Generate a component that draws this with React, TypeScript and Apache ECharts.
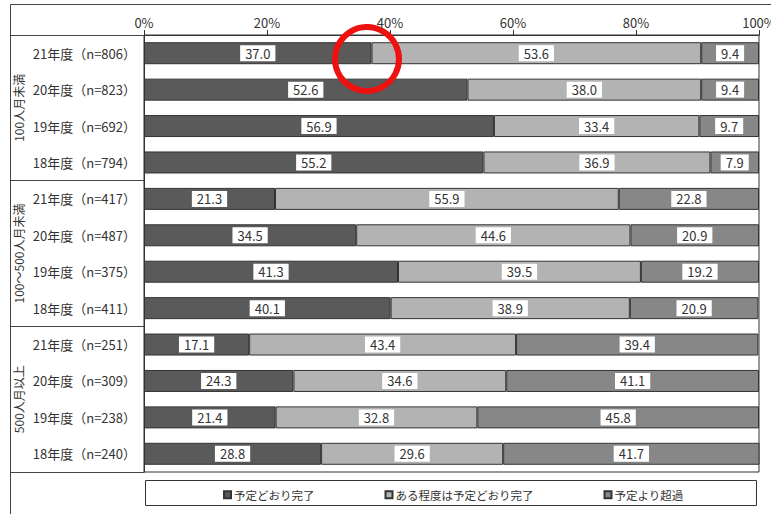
import React, { useEffect, useRef } from "react";
import * as echarts from "echarts";

const categories = [
  "21年度（n=806）", "20年度（n=823）", "19年度（n=692）", "18年度（n=794）",
  "21年度（n=417）", "20年度（n=487）", "19年度（n=375）", "18年度（n=411）",
  "21年度（n=251）", "20年度（n=309）", "19年度（n=238）", "18年度（n=240）",
];
const groups = ["100人月未満", "100～500人月未満", "500人月以上"];
const seriesNames = ["予定どおり完了", "ある程度は予定どおり完了", "予定より超過"];
const doneValues = [37.0, 52.6, 56.9, 55.2, 21.3, 34.5, 41.3, 40.1, 17.1, 24.3, 21.4, 28.8];
const partlyValues = [53.6, 38.0, 33.4, 36.9, 55.9, 44.6, 39.5, 38.9, 43.4, 34.6, 32.8, 29.6];
const overValues = [9.4, 9.4, 9.7, 7.9, 22.8, 20.9, 19.2, 20.9, 39.4, 41.1, 45.8, 41.7];
const xTicks = [0, 20, 40, 60, 80, 100];

const colors = ["#5a5a5a", "#b3b3b3", "#878787"];
const FONT = "'Noto Sans CJK JP', 'Noto Sans', sans-serif";

export default function App() {
  const ref = useRef<HTMLDivElement>(null);
  useEffect(() => {
    if (!ref.current) return;
    const chart = echarts.init(ref.current, undefined, { renderer: "svg" });
    const values = [doneValues, partlyValues, overValues];
    const option: any = {
      animation: false,
      textStyle: { fontFamily: FONT },
      grid: {
        left: 144, right: 12, top: 35, bottom: 42,
        outerBoundsMode: "none", containLabel: false,
        show: true, borderColor: "#333", borderWidth: 1, backgroundColor: "transparent",
      },
      xAxis: {
        type: "value", position: "top", min: 0, max: 100, interval: 20,
        axisLine: { show: true, lineStyle: { color: "#333" } },
        axisTick: { show: true, length: 5, lineStyle: { color: "#333" } },
        splitLine: { show: false },
        axisLabel: {
          color: "#333", fontSize: 13, margin: 6, fontFamily: FONT,
          formatter: (v: number) => (xTicks.includes(v) ? v + "%" : ""),
        },
      },
      yAxis: [
        {
          type: "category", data: categories, inverse: true,
          axisLine: { show: true, lineStyle: { color: "#333" } },
          axisTick: { show: false },
          axisLabel: { color: "#333", fontSize: 13, margin: 8, fontFamily: FONT },
        },
        {
          type: "category", data: groups, inverse: true, position: "left",
          axisLine: { show: false },
          axisTick: { show: true, length: 134, lineStyle: { color: "#444" } },
          axisLabel: { color: "#333", fontSize: 12, rotate: 90, margin: 120, fontFamily: FONT },
        },
      ],
      legend: {
        left: 218, top: 484, itemWidth: 7, itemHeight: 7, itemGap: 70,
        icon: "rect",
        textStyle: { color: "#333", fontSize: 11.5, fontFamily: FONT, padding: [0, 0, 0, -2] },
        data: seriesNames,
      },
      series: seriesNames.map((name, i) => ({
        name, type: "bar", stack: "total", yAxisIndex: 0, barWidth: 22,
        data: values[i],
        itemStyle: { color: colors[i], borderColor: "#333", borderWidth: 1 },
        label: {
          show: true, position: "inside", color: "#333", fontSize: 13,
          backgroundColor: "#fff", padding: [2, 5, 1, 5], fontFamily: FONT,
          formatter: (p: any) => Number(p.value).toFixed(1),
        },
      })),
      graphic: [
        { type: "rect", shape: { x: 10.5, y: 4.5, width: 800, height: 600 }, style: { fill: "none", stroke: "#444", lineWidth: 1 }, z: 100 },
        { type: "rect", shape: { x: 145.5, y: 480.5, width: 611, height: 25 }, style: { fill: "none", stroke: "#333", lineWidth: 1 }, z: 100 },
        { type: "circle", shape: { cx: 367, cy: 59, r: 32 }, style: { fill: "none", stroke: "#ee1111", lineWidth: 6 }, z: 120 },
      ],
    };
    chart.setOption(option);
    return () => chart.dispose();
  }, []);
  return <div ref={ref} style={{ position: "fixed", left: 0, top: 0, width: 771, height: 514, background: "#fff" }} />;
}
